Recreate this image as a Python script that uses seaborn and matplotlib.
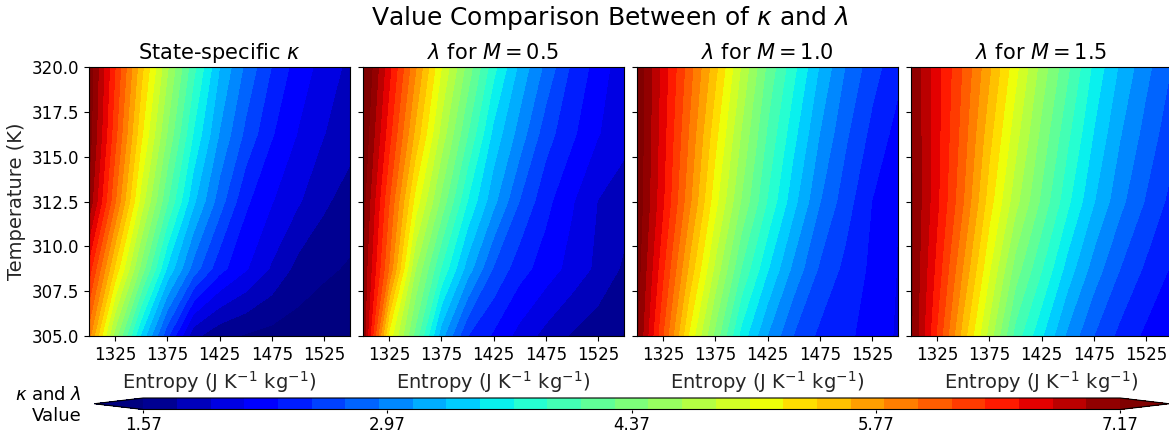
import numpy as np
import matplotlib
matplotlib.use('Agg')
import matplotlib.pyplot as plt
import seaborn as sns

# Entropy (J K^-1 kg^-1) and temperature (K) grid
entropy = [1300, 1325, 1350, 1375, 1400, 1425, 1450, 1475, 1500, 1525, 1550]
temperature = [305.0, 308.75, 312.5, 316.25, 320.0]

# one row per temperature, bottom to top
kappa = [
    [5.90, 4.56, 3.46, 2.58, 1.82, 1.62, 1.55, 1.50, 1.47, 1.45, 1.43],
    [6.50, 5.39, 4.40, 3.47, 2.84, 2.41, 2.17, 1.93, 1.70, 1.60, 1.55],
    [7.12, 6.03, 4.96, 4.10, 3.35, 2.82, 2.38, 2.16, 1.98, 1.80, 1.66],
    [7.27, 6.27, 5.28, 4.45, 3.68, 3.10, 2.68, 2.36, 2.14, 1.96, 1.85],
    [7.30, 6.40, 5.50, 4.69, 3.95, 3.31, 2.88, 2.53, 2.25, 2.08, 1.90],
]
lam_05 = [
    [7.13, 5.17, 4.21, 3.19, 2.54, 2.31, 2.08, 1.89, 1.74, 1.64, 1.56],
    [7.15, 5.99, 4.67, 3.87, 3.22, 2.71, 2.42, 2.25, 2.08, 1.91, 1.73],
    [7.25, 6.21, 5.17, 4.41, 3.69, 3.17, 2.72, 2.40, 2.17, 1.95, 1.85],
    [7.36, 6.47, 5.58, 4.78, 4.09, 3.44, 3.03, 2.62, 2.38, 2.16, 2.02],
    [7.45, 6.65, 5.85, 5.05, 4.40, 3.76, 3.26, 2.87, 2.50, 2.26, 2.02],
]
lam_10 = [
    [7.20, 6.20, 5.21, 4.40, 3.62, 3.11, 2.72, 2.49, 2.38, 2.27, 2.12],
    [7.27, 6.43, 5.58, 4.80, 4.07, 3.52, 3.06, 2.70, 2.48, 2.30, 2.14],
    [7.32, 6.61, 5.87, 5.11, 4.45, 3.87, 3.37, 2.93, 2.62, 2.34, 2.15],
    [7.33, 6.66, 5.99, 5.30, 4.64, 4.05, 3.56, 3.11, 2.76, 2.48, 2.27],
    [7.33, 6.70, 6.10, 5.49, 4.83, 4.23, 3.75, 3.29, 2.91, 2.62, 2.40],
]
lam_15 = [
    [7.20, 6.37, 5.53, 4.77, 4.00, 3.53, 3.07, 2.73, 2.48, 2.30, 2.18],
    [7.20, 6.52, 5.80, 5.07, 4.38, 3.90, 3.42, 3.03, 2.73, 2.50, 2.32],
    [7.20, 6.63, 6.02, 5.33, 4.73, 4.23, 3.74, 3.32, 2.98, 2.71, 2.47],
    [7.18, 6.65, 6.11, 5.50, 4.93, 4.41, 3.93, 3.49, 3.13, 2.85, 2.60],
    [7.15, 6.66, 6.18, 5.66, 5.11, 4.58, 4.12, 3.65, 3.28, 2.98, 2.72],
]

titles = [r'State-specific $\kappa$', r'$\lambda$ for $M = 0.5$',
          r'$\lambda$ for $M = 1.0$', r'$\lambda$ for $M = 1.5$']
fields = [kappa, lam_05, lam_10, lam_15]

vmin, vmax = 1.57, 7.17
levels = np.linspace(vmin, vmax, 30)
cbar_ticks = np.linspace(vmin, vmax, 5)

sns.set_style('ticks', {'axes.edgecolor': 'black', 'xtick.color': 'black',
                        'ytick.color': 'black', 'text.color': 'black'})
cmap = plt.get_cmap('jet')

W, H = 1169, 436
fig = plt.figure(figsize=(W / 100, H / 100), dpi=100)

lefts = [89, 363, 637, 911]
for i, (z, title) in enumerate(zip(fields, titles)):
    ax = fig.add_axes([lefts[i] / W, 100 / H, 261 / W, 269 / H])
    cs = ax.contourf(entropy, temperature, np.array(z), levels=levels,
                     cmap=cmap, extend='both')
    ax.set_title(title, fontsize=15)
    ax.set_xticks([1325, 1375, 1425, 1475, 1525])
    ax.set_yticks(np.arange(305, 320.1, 2.5))
    ax.set_xlabel(r'Entropy (J K$^{-1}$ kg$^{-1}$)', fontsize=14)
    ax.tick_params(labelsize=12)
    if i == 0:
        ax.set_ylabel('Temperature (K)', fontsize=14)
        ax.yaxis.set_major_formatter('{x:.1f}')
    else:
        ax.set_yticklabels([])

cax = fig.add_axes([94.3 / W, 26.5 / H, 1074.7 / W, 11.5 / H])
cb = fig.colorbar(cs, cax=cax, orientation='horizontal', ticks=cbar_ticks)
cb.ax.xaxis.set_major_formatter('{x:.2f}')
cb.ax.tick_params(labelsize=12, length=2.5, pad=2.5)

fig.text(82 / W, 1 - 405.5 / H, '$\\kappa$ and $\\lambda$\nValue', ha='right',
         va='center', multialignment='right', fontsize=13)
fig.suptitle(r'Value Comparison Between of $\kappa$ and $\lambda$',
             x=609.5 / W, y=1 - 18 / H, va='center', fontsize=18)

fig.savefig('out.png', dpi=100)
